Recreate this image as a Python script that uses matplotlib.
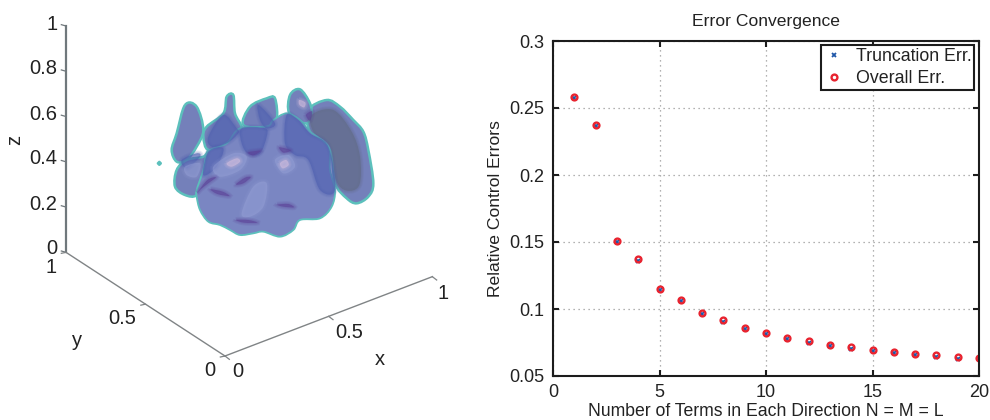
import matplotlib
matplotlib.use("Agg")
import matplotlib.pyplot as plt
from matplotlib.patches import PathPatch
from matplotlib.path import Path

plt.rcParams["font.family"] = ["Liberation Sans", "DejaVu Sans"]

# right panel data
n_terms = list(range(1, 21))
overall_err = [0.258, 0.2375, 0.151, 0.137, 0.115, 0.107, 0.097, 0.0915, 0.086, 0.082,
               0.0785, 0.076, 0.0735, 0.0715, 0.0695, 0.068, 0.0665, 0.0655, 0.064, 0.0635]
trunc_err = [0.2572, 0.2368, 0.150, 0.136, 0.114, 0.106, 0.096, 0.0905, 0.085, 0.081,
             0.0775, 0.075, 0.0725, 0.0705, 0.0685, 0.067, 0.0655, 0.0645, 0.063, 0.0625]
x_ticks = [0, 5, 10, 15, 20]
y_ticks = [0.05, 0.1, 0.15, 0.2, 0.25, 0.3]
y_tick_labels = ["0.05", "0.1", "0.15", "0.2", "0.25", "0.3"]

# left panel: 3D box corners and tick labels as seen in the picture
corner_top = (198, 78)
corner_origin = (198, 757)
corner_front = (675, 1068)
corner_right = (1297, 830)
z_ticks = ["0", "0.2", "0.4", "0.6", "0.8", "1"]
z_label_y = [745, 612, 477, 342, 207, 72]

# blob outlines
lobe_right = [(925, 330), (980, 300), (1020, 320), (1060, 360), (1090, 395), (1105, 450), (1120, 550),
              (1105, 590), (1070, 610), (1040, 595), (1005, 550), (990, 450), (930, 395)]
lobe_right_dark = [(935, 345), (1000, 330), (1055, 395), (1080, 470), (1078, 555), (1040, 572), (1008, 540),
                   (990, 440), (940, 395)]
lobe_left = [(555, 315), (590, 320), (610, 390), (590, 440), (560, 480), (530, 485), (515, 450), (530, 400)]
lobe_low = [(530, 510), (560, 480), (610, 470), (625, 455), (610, 530), (590, 585), (555, 585), (525, 560)]
peak_2 = [(620, 380), (670, 340), (680, 290), (700, 285), (705, 340), (725, 380), (715, 400),
          (680, 430), (625, 450), (610, 410)]
peak_3 = [(730, 375), (750, 320), (800, 295), (825, 295), (830, 360), (800, 380)]
peak_4 = [(868, 340), (870, 285), (900, 268), (930, 310), (935, 350), (915, 370)]
body = [(590, 590), (600, 630), (625, 665), (660, 675), (690, 690), (720, 705), (760, 700), (790, 695),
        (840, 710), (880, 690), (900, 660), (960, 655), (995, 620), (1005, 570), (990, 510), (985, 440),
        (930, 395), (900, 360), (860, 340), (820, 360), (800, 380), (720, 385), (680, 430), (625, 455),
        (610, 510), (590, 570)]

dark_patches = [
    [(625, 410), (670, 345), (710, 385), (715, 400), (680, 430), (635, 440)],
    [(725, 385), (795, 385), (800, 410), (780, 460), (745, 462), (725, 430)],
    [(775, 315), (825, 370), (800, 385), (780, 360)],
    [(860, 345), (895, 360), (930, 400), (985, 440), (1005, 570), (960, 570), (925, 480), (885, 465), (855, 430)],
    [(625, 455), (670, 445), (650, 500), (610, 525)],
    [(545, 480), (590, 460), (600, 470), (560, 505)],
]
pale_patches = [
    [(640, 500), (700, 460), (740, 470), (720, 510), (660, 530)],
    [(725, 640), (760, 560), (800, 550), (790, 620), (750, 650)],
    [(825, 480), (865, 465), (885, 500), (850, 520)],
    [(555, 500), (600, 490), (590, 530), (560, 525)],
]
pink_spots = [
    [(680, 490), (710, 475), (720, 485), (695, 500)],
    [(840, 490), (858, 480), (866, 495), (848, 505)],
    [(898, 300), (916, 308), (912, 322), (898, 314)],
]
purple_marks = [
    [(592, 578), (622, 540), (648, 532), (622, 552), (602, 568)],
    [(632, 568), (668, 575), (688, 588), (652, 582)],
    [(708, 553), (735, 533), (752, 532), (730, 550)],
    [(708, 660), (745, 660), (772, 668), (732, 668)],
    [(832, 614), (865, 612), (882, 622), (850, 620)],
    [(918, 345), (936, 334), (930, 362)],
    [(745, 457), (782, 452), (760, 466)],
    [(838, 442), (872, 451), (850, 458)],
]
stray_dot = [(478, 482), (486, 490), (478, 498), (470, 490)]

label_color = "#222222"
teal = "#5cc0bc"


def smooth_patch(points, **kwargs):
    # closed Catmull-Rom outline through the read points, as cubic beziers
    n = len(points)
    verts = [points[0]]
    codes = [Path.MOVETO]
    for i in range(n):
        p0, p1, p2, p3 = points[i - 1], points[i], points[(i + 1) % n], points[(i + 2) % n]
        c1 = (p1[0] + (p2[0] - p0[0]) / 6, p1[1] + (p2[1] - p0[1]) / 6)
        c2 = (p2[0] - (p3[0] - p1[0]) / 6, p2[1] - (p3[1] - p1[1]) / 6)
        verts += [c1, c2, p2]
        codes += [Path.CURVE4, Path.CURVE4, Path.CURVE4]
    return PathPatch(Path(verts, codes), **kwargs)


def soft_patch(ax, points, color, alpha):
    # stacked faint edges stand in for the blur of the scanned render
    for lw in (4, 2.5, 1.2):
        ax.add_patch(smooth_patch(points, facecolor="none", edgecolor=color, lw=lw, alpha=alpha * 0.2))
    ax.add_patch(smooth_patch(points, facecolor=color, edgecolor="none", alpha=alpha))


def along(a, b, t):
    return (a[0] + (b[0] - a[0]) * t, a[1] + (b[1] - a[1]) * t)


def draw_left(ax):
    ax.set_xlim(0, 1380)
    ax.set_ylim(1260, 0)
    ax.axis("off")

    axis_color = "#70787c"
    ax.plot(*zip(corner_origin, corner_top), color=axis_color, lw=1.6)
    ax.plot(*zip(corner_origin, corner_front), color="#808486", lw=1.0)
    ax.plot(*zip(corner_front, corner_right), color="#808486", lw=1.0)

    for i, label in enumerate(z_ticks):
        t = i / (len(z_ticks) - 1)
        px, py = along(corner_origin, corner_top, t)
        ax.plot([px - 14, px], [py - 4, py], color=axis_color, lw=0.9)
        ax.text(172, z_label_y[i], label, ha="right", va="center", fontsize=14.5, color=label_color)
    ax.text(44, 420, "z", rotation=90, ha="center", va="center", fontsize=14.5, color=label_color)

    for t in (0, 0.5, 1):
        px, py = along(corner_front, corner_right, t)
        ax.plot([px, px + 13], [py, py + 10], color="#808486", lw=0.9)
        qx, qy = along(corner_front, corner_origin, t)
        ax.plot([qx - 14, qx], [qy + 3, qy], color="#808486", lw=0.9)
    for x, y, s in [(152, 803, "1"), (367, 955, "0.5"), (630, 1110, "0"),
                    (712, 1115, "0"), (1047, 997, "0.5"), (1328, 880, "1")]:
        ax.text(x, y, s, ha="center", va="center", fontsize=14.5, color=label_color)
    ax.text(232, 1022, "y", ha="center", va="center", fontsize=14.5, color=label_color)
    ax.text(1140, 1078, "x", ha="center", va="center", fontsize=14.5, color=label_color)

    # back lobes first, then the main body over them
    for outline in (lobe_right, peak_4, peak_3, peak_2, lobe_left, lobe_low):
        ax.add_patch(smooth_patch(outline, facecolor="#7480ba", edgecolor=teal, lw=1.8))
    soft_patch(ax, lobe_right_dark, "#636d8c", 0.8)
    ax.add_patch(smooth_patch(body, facecolor="#7a86c2", edgecolor=teal, lw=1.3))
    for outline in dark_patches:
        soft_patch(ax, outline, "#4f60b0", 0.65)
    for outline in pale_patches:
        soft_patch(ax, outline, "#95a0d6", 0.5)
    for outline in pink_spots:
        soft_patch(ax, outline, "#d4bede", 0.6)
    for outline in purple_marks:
        soft_patch(ax, outline, "#5b3f96", 0.6)
    ax.add_patch(smooth_patch(stray_dot, facecolor=teal, edgecolor="none"))


def draw_right(ax):
    line_color = "#1c1c1c"
    ax.plot(n_terms, trunc_err, "x", color="#1f57a8", ms=3, mew=1.3, label="Truncation Err.")
    ax.plot(n_terms, overall_err, "o", mfc="none", mec="#e8232f", ms=4.2, mew=1.7, label="Overall Err.")

    ax.set_xlim(0, 20)
    ax.set_ylim(0.05, 0.3)
    ax.set_xticks(x_ticks)
    ax.set_yticks(y_ticks)
    ax.set_yticklabels(y_tick_labels)
    ax.tick_params(direction="in", top=True, right=True, length=4, width=1.5, color=line_color,
                   labelsize=13, labelcolor=label_color, pad=6)
    ax.grid(True, linestyle=(0, (1, 3)), color="#999999", lw=0.9)
    ax.set_axisbelow(True)
    for spine in ax.spines.values():
        spine.set_linewidth(1.5)
        spine.set_color(line_color)

    ax.set_title("Error Convergence", fontsize=12.6, color=label_color, pad=11)
    ax.set_xlabel("Number of Terms in Each Direction N = M = L", fontsize=12.7, color=label_color, labelpad=1.5)
    ax.set_ylabel("Relative Control Errors", fontsize=12.6, color=label_color, labelpad=5)

    leg = ax.legend(loc="upper right", bbox_to_anchor=(0.9885, 0.9875), borderaxespad=0, fontsize=12.8,
                    fancybox=False, framealpha=1, edgecolor=line_color, handlelength=1.2,
                    handletextpad=0.6, borderpad=0.15, labelspacing=0.3, labelcolor=label_color)
    leg.get_frame().set_linewidth(1.5)


fig = plt.figure(figsize=(9.9, 4.2), dpi=100)
W, H = 990, 420
ax_left = fig.add_axes([0, 0, 460 / W, 1])
ax_right = fig.add_axes([553 / W, 1 - 376 / H, (979 - 553) / W, (376 - 41) / H])
draw_left(ax_left)
draw_right(ax_right)
fig.savefig("out.png", dpi=100)
